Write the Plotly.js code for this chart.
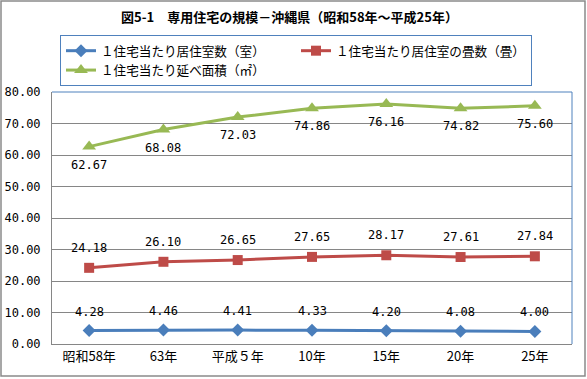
<!DOCTYPE html>
<html>
<head>
<meta charset="utf-8">
<script src="https://cdn.plot.ly/plotly-3.0.1.min.js"></script>
<style>html,body{margin:0;padding:0;background:#fff;}#chart{width:587px;height:379px;}</style>
</head>
<body>
<div id="chart"></div>
<script>
const categories = ["昭和58年", "63年", "平成５年", "10年", "15年", "20年", "25年"];
const seriesNames = ["１住宅当たり居住室数（室）", "１住宅当たり居住室の畳数（畳）", "１住宅当たり延べ面積（㎡）"];
const rooms = [4.28, 4.46, 4.41, 4.33, 4.20, 4.08, 4.00];
const tatami = [24.18, 26.10, 26.65, 27.65, 28.17, 27.61, 27.84];
const floorArea = [62.67, 68.08, 72.03, 74.86, 76.16, 74.82, 75.60];
const yTicks = [0, 10, 20, 30, 40, 50, 60, 70, 80];

const W = 587, H = 379;
const L = 52, R = 572, T = 92, B = 344;
const px = x => (x - L) / (R - L);
const py = y => (B - y) / (B - T);

const numFont = {family: "DejaVu Sans Mono, Noto Sans CJK JP, monospace", size: 12, color: "#000"};
const jpFont = {family: "Noto Sans CJK JP, sans-serif", size: 12.6, color: "#000"};

function trace(name, vals, color, symbol, size) {
  return {
    type: "scatter", mode: "lines+markers", name: name,
    x: categories, y: vals,
    line: {color: color, width: 3},
    marker: {color: color, symbol: symbol, size: size},
    cliponaxis: false
  };
}

const data = [
  trace(seriesNames[0], rooms, "#4A7EBB", "diamond", 10),
  trace(seriesNames[1], tatami, "#BE4B48", "square", 10),
  trace(seriesNames[2], floorArea, "#98B954", "triangle-up", 12)
];

function labels(vals, shift) {
  return vals.map((v, i) => ({
    xref: "x", yref: "y", x: categories[i], y: v,
    text: v.toFixed(2), showarrow: false,
    xanchor: "center", yanchor: "middle", yshift: shift,
    font: numFont
  }));
}

const annotations = [].concat(
  labels(rooms, 19),
  labels(tatami, 20),
  labels(floorArea, -18)
);

const layout = {
  width: W, height: H,
  margin: {l: L, r: W - R, t: T, b: H - B, pad: 0},
  paper_bgcolor: "#fff", plot_bgcolor: "#fff",
  showlegend: true,
  title: {
    text: "図5-1　専用住宅の規模－沖縄県（昭和58年～平成25年）",
    font: {family: "Noto Sans CJK JP, sans-serif", size: 13, weight: "bold", color: "#000"},
    xref: "paper", x: px(289.5), xanchor: "center",
    yref: "container", y: 1 - 17 / H, yanchor: "middle"
  },
  legend: {
    orientation: "h", xref: "paper", yref: "paper",
    x: px(60), y: py(35), xanchor: "left", yanchor: "top",
    entrywidth: 190, entrywidthmode: "pixels",
    bordercolor: "#4F81BD", borderwidth: 1, bgcolor: "#fff",
    font: jpFont, itemwidth: 30, tracegroupgap: 0
  },
  annotations: annotations,
  xaxis: {
    type: "category", range: [-0.5, 6.5], fixedrange: true,
    showgrid: false, zeroline: false,
    showline: true, linecolor: "#868686", linewidth: 1,
    ticks: "", tickfont: {family: "Noto Sans CJK JP, sans-serif", size: 13, color: "#000"}
  },
  yaxis: {
    range: [0, 80], tickvals: yTicks, tickformat: ".2f",
    showgrid: true, gridcolor: "#868686", gridwidth: 1,
    zeroline: false, showline: true, linecolor: "#868686", linewidth: 1,
    ticks: "", ticklabelstandoff: 8, tickfont: numFont
  },
  shapes: [
    {type: "line", xref: "paper", yref: "paper", x0: 0, x1: 1, y0: 1, y1: 1, line: {color: "#4F81BD", width: 1}},
    {type: "line", xref: "paper", yref: "paper", x0: 1, x1: 1, y0: 0, y1: 1, line: {color: "#4F81BD", width: 1}},
    {type: "rect", xref: "paper", yref: "paper", x0: px(1), x1: px(585), y0: py(376), y1: py(1), line: {color: "#8A8A8A", width: 1.5}}
  ]
};

Plotly.newPlot("chart", data, layout, {displayModeBar: false, staticPlot: true});
</script>
</body>
</html>
